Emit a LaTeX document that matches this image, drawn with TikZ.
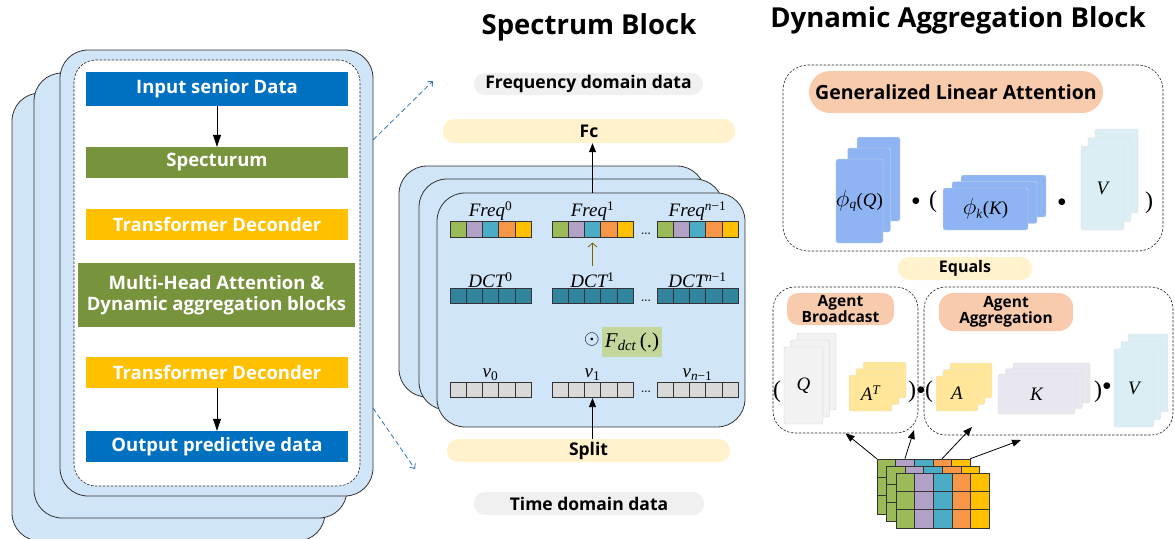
\documentclass[tikz,border=0pt]{standalone}
\usepackage{fontspec}
\newfontfamily\osans{Open Sans}
\newfontfamily\tnr{Liberation Serif}
\usetikzlibrary{arrows.meta,positioning}

\definecolor{stackBlue}{HTML}{D0E5F8}
\definecolor{blueBox}{HTML}{0070C0}
\definecolor{greenBox}{HTML}{77933C}
\definecolor{orangeBox}{HTML}{FFC000}
\definecolor{pillYellow}{HTML}{FFF2CC}
\definecolor{pillGray}{HTML}{F0F0F0}
\definecolor{peach}{HTML}{F8CBAD}
\definecolor{cellGreen}{HTML}{9BBB59}
\definecolor{cellPurple}{HTML}{B2A1C7}
\definecolor{cellTeal}{HTML}{4BACC6}
\definecolor{cellOrange}{HTML}{F79646}
\definecolor{cellYellow}{HTML}{FFC000}
\definecolor{dctTeal}{HTML}{31849B}
\definecolor{cellGray}{HTML}{D9D9D9}
\definecolor{fdctGreen}{HTML}{C3D69B}
\definecolor{phiBlue}{HTML}{8EB4F3}
\definecolor{vBlue}{HTML}{DAEEF3}
\definecolor{qGray}{HTML}{F2F2F2}
\definecolor{aYellow}{HTML}{FFE699}
\definecolor{kGray}{HTML}{E8E6EF}
\definecolor{linkBlue}{HTML}{2E75B6}
\definecolor{olive}{HTML}{7F6000}

\tikzset{
  stack/.style={draw=black!80, fill=stackBlue, rounded corners=28pt, line width=0.8pt, inner sep=0pt},
  flow/.style={font=\osans\bfseries\fontsize{18.5}{21}\selectfont, text=white, minimum width=262pt,
    minimum height=31pt, inner sep=0pt, align=center},
  title/.style={font=\osans\bfseries\fontsize{27.5}{30}\selectfont},
  pill/.style={rounded corners=11pt, inner sep=0pt, font=\osans\bfseries\fontsize{17.5}{20}\selectfont, align=center},
  cell/.style={draw=black!80, minimum width=16.2pt, minimum height=15.5pt, inner sep=0pt, line width=0.6pt},
  lbl/.style={font=\tnr\itshape\fontsize{19}{21}\selectfont, inner sep=0pt},
  sheet/.style={rounded corners=2pt, draw=black!12, inner sep=0pt, font=\tnr\itshape\fontsize{19}{21}\selectfont},
  dashbox/.style={draw=black!85, dash pattern=on 2.5pt off 1.5pt, rounded corners=22pt, line width=0.6pt, inner sep=0pt},
  op/.style={font=\fontsize{17}{19}\selectfont, inner sep=0pt},
  paren/.style={font=\tnr\fontsize{24}{26}\selectfont, inner sep=0pt},
  flowarrow/.style={-{Triangle[length=12pt,width=8pt]}, line width=0.8pt},
  smallarrow/.style={-{Triangle[length=9pt,width=7pt]}, line width=0.8pt},
  link/.style={linkBlue, dash pattern=on 5pt off 3pt, line width=0.8pt, -{Straight Barb[length=4pt,width=7pt]}},
}

\begin{document}
\begin{tikzpicture}[x=1pt,y=-1pt]
\useasboundingbox (0,0) rectangle (1175,538);

% Titles
\node[title] (spectitle) at (589,27) {Spectrum Block};
\node[title] (dyntitle) at (958,20) {Dynamic Aggregation Block};

%% Left: model pipeline

% Stacked plates
\node[stack, minimum width=313pt, minimum height=448pt] (lback) at (168.5,317) {};
\node[stack, minimum width=313pt, minimum height=445pt] (lmid) at (190.5,295.5) {};
\node[stack, minimum width=313pt, minimum height=446pt] (lfront) at (216.5,273) {};
\node[dashbox, fill=white, minimum width=286pt, minimum height=426pt] (linner) at (217,273) {};

% Blocks
\node[flow, fill=blueBox, minimum height=34pt] (input) at (217,89) {Input senior Data};
\node[flow, fill=greenBox] (spectrum) at (217,162.5) {Specturum};
\node[flow, fill=orangeBox] (trans1) at (217,224.5) {Transformer Deconder};
\node[flow, fill=greenBox, minimum width=277pt, minimum height=64pt] (mha) at (216.5,295)
  {Multi-Head Attention \&\\Dynamic aggregation blocks};
\node[flow, fill=orangeBox] (trans2) at (217,372.5) {Transformer Deconder};
\node[flow, fill=blueBox] (output) at (217,446.5) {Output predictive data};

\draw[flowarrow] (input) -- (spectrum);
\draw[flowarrow] (trans2) -- (output);

% Zoom links
\coordinate (linkStartA) at (373,140);
\coordinate (linkEndA) at (433,81);
\coordinate (linkStartB) at (373,408);
\coordinate (linkEndB) at (415,469);
\draw[link] (linkStartA) -- (linkEndA);
\draw[link] (linkStartB) -- (linkEndB);

%% Middle: spectrum block

% Domain labels
\node[pill, fill=pillGray, minimum width=229pt, minimum height=22pt] (freqdom) at (588.5,84) {Frequency domain data};
\node[pill, fill=pillYellow, minimum width=292pt, minimum height=24pt] (fc) at (589,131) {Fc};
\node[pill, fill=pillYellow, minimum width=283pt, minimum height=23pt] (split) at (588.5,450.5) {Split};
\node[pill, fill=pillGray, minimum width=230pt, minimum height=23pt] (timedom) at (589,503.5) {Time domain data};

% Stacked plates
\node[stack, minimum width=306pt, minimum height=231pt] (mback) at (552,281.5) {};
\node[stack, minimum width=304pt, minimum height=231pt] (mmid) at (571,294.5) {};
\node[stack, minimum width=308pt, minimum height=234pt] (mfront) at (591,310) {};

% Rows of cells
\foreach \gx/\gs [count=\g from 0] in {450/{\upshape 0}, 552/{\upshape 1}, 657/{n\upshape −1}} {
  \node[lbl] (freq\g) at (\gx+40.5,211) {Freq\textsuperscript{\gs}};
  \node[lbl] (dct\g) at (\gx+40.5,280) {DCT\textsuperscript{\gs}};
  \node[lbl] (nu\g) at (\gx+40.5,375) {v\textsubscript{\gs}};
  \foreach \cc [count=\i from 0] in {cellGreen,cellPurple,cellTeal,cellOrange,cellYellow} {
    \node[cell, fill=\cc] (f\g-\i) at (\gx+8.1+16.2*\i,229.5) {};
    \node[cell, fill=dctTeal] (d\g-\i) at (\gx+8.1+16.2*\i,296) {};
    \node[cell, fill=cellGray] (v\g-\i) at (\gx+8.1+16.2*\i,390) {};
  }
}
\node[font=\bfseries] (dotsf) at (646,234) {...};
\node[font=\bfseries] (dotsd) at (646,301) {...};
\node[font=\bfseries] (dotsv) at (646,392) {...};

% DCT step
\node[fill=fdctGreen, minimum width=60pt, minimum height=30pt, inner sep=0pt, font=\tnr\itshape\fontsize{21}{23}\selectfont]
  (fdct) at (632,342) {F\textsubscript{dct}\,{\upshape(.)}};
\node[inner sep=0pt] (odot) at (592,339) {\scalebox{2}{$\odot$}};
\draw[olive, line width=0.8pt, -{Straight Barb[length=4pt,width=9pt]}, shorten <=6pt, shorten >=5pt]
  (dct1.north) -- (f1-2.south);

% In and out
\draw[smallarrow] (f1-2 |- mfront.north) -- (f1-2 |- fc.south);
\draw[smallarrow] (v1-2 |- split.north) -- (v1-2.south);

%% Right: dynamic aggregation block

% Generalized linear attention
\node[dashbox, rounded corners=25pt, minimum width=380pt, minimum height=186pt] (glabox) at (973,158) {};
\node[pill, fill=peach, rounded corners=21pt, minimum width=294pt, minimum height=42pt,
  font=\osans\bfseries\fontsize{19.5}{22}\selectfont] (gla) at (956,92) {Generalized Linear Attention};

\foreach \k in {2,1}
  \node[sheet, fill=phiBlue, minimum width=43pt, minimum height=84pt] at (859.5+9.5*\k,201-11*\k) {};
\node[sheet, fill=phiBlue, minimum width=43pt, minimum height=84pt] (phiq) at (859.5,201)
  {\scalebox{1.35}{$\phi$}\textsubscript{q}{\upshape(}Q{\upshape)}};
\node[op] (dotA) at (916,202) {$\bullet$};
\node[paren] (lparA) at (933,202) {(};
\foreach \k in {2,1}
  \node[sheet, fill=phiBlue, minimum width=85pt, minimum height=42pt] at (985.5+9*\k,209-6.5*\k) {};
\node[sheet, fill=phiBlue, minimum width=85pt, minimum height=42pt] (phik) at (985.5,209)
  {\scalebox{1.35}{$\phi$}\textsubscript{k}{\upshape(}K{\upshape)}};
\node[op] (dotB) at (1062,203) {$\bullet$};
\foreach \k in {2,1}
  \node[sheet, fill=vBlue, minimum width=43pt, minimum height=84pt] at (1102.5+7*\k,188-8.5*\k) {};
\node[sheet, fill=vBlue, minimum width=43pt, minimum height=84pt] (vtop) at (1102.5,188) {V};
\node[paren] (rparA) at (1149,203) {)};

\node[pill, fill=pillYellow, minimum width=134pt, minimum height=23pt,
  font=\osans\bfseries\fontsize{16}{18}\selectfont] (equals) at (965,268.5) {Equals};

% Agent broadcast
\node[dashbox, minimum width=145pt, minimum height=146pt] (bcast) at (845.5,360) {};
\node[pill, fill=peach, minimum width=107pt, minimum height=32pt,
  font=\osans\bfseries\fontsize{15.5}{15}\selectfont] (bcastlbl) at (840.5,309) {Agent\\Broadcast};
\node[paren] (lparB) at (777,392) {(};
\foreach \k in {2,1}
  \node[sheet, fill=qGray, draw=black!18, minimum width=39pt, minimum height=77pt] at (803.5+6.5*\k,385.5-7*\k) {};
\node[sheet, fill=qGray, draw=black!18, minimum width=39pt, minimum height=77pt] (qq) at (803.5,385.5) {Q};
\foreach \k in {2,1}
  \node[sheet, fill=aYellow, minimum width=43pt, minimum height=36pt] at (870.5+7*\k,393-6.5*\k) {};
\node[sheet, fill=aYellow, minimum width=43pt, minimum height=36pt] (at) at (870.5,393) {A\textsuperscript{T}};
\node[paren] (rparB) at (912,392) {)};
\node[op] (dotC) at (921,391) {$\bullet$};

% Agent aggregation
\node[dashbox, minimum width=249pt, minimum height=148pt] (aggbox) at (1048.5,361) {};
\node[pill, fill=peach, rounded corners=14pt, minimum width=134pt, minimum height=38pt,
  font=\osans\bfseries\fontsize{15.5}{16.5}\selectfont] (agglbl) at (1006,312) {Agent\\Aggregation};
\node[paren] (lparC) at (929,392) {(};
\foreach \k in {2,1}
  \node[sheet, fill=aYellow, minimum width=42pt, minimum height=35pt] at (957+7*\k,393.5-6.5*\k) {};
\node[sheet, fill=aYellow, minimum width=42pt, minimum height=35pt] (aa) at (957,393.5) {A};
\foreach \k in {2,1}
  \node[sheet, fill=kGray, minimum width=77pt, minimum height=40pt] at (1036.5+7.5*\k,394-5.5*\k) {};
\node[sheet, fill=kGray, minimum width=77pt, minimum height=40pt] (kk) at (1036.5,394) {K};
\node[paren] (rparC) at (1098,392) {)};
\node[op] (dotD) at (1107,387) {$\bullet$};
\foreach \k in {2,1}
  \node[sheet, fill=vBlue, minimum width=40pt, minimum height=78pt] at (1134+7*\k,388-7.5*\k) {};
\node[sheet, fill=vBlue, minimum width=40pt, minimum height=78pt] (vbot) at (1134,388) {V};

% Agent tokens
\foreach \l in {2,1,0}
  \foreach \r in {0,1,2}
    \foreach \cc [count=\c from 0] in {cellGreen,cellPurple,cellTeal,cellOrange,cellYellow}
      \node[cell, fill=\cc, minimum width=18.6pt, minimum height=18.3pt]
        (cube\l-\r-\c) at (896-9.5*\l+9.3+18.6*\c,473-7*\l+9.15+18.3*\r) {};

\coordinate (tipB) at (914,430);
\coordinate (tipC) at (972,427);
\coordinate (tipD) at (1021,440);
\draw[smallarrow] (cube2-0-0.north west) -- (bcast.south);
\draw[smallarrow] (cube2-0-1.north) -- (tipB);
\draw[smallarrow] (cube2-0-3.north) -- (tipC);
\draw[smallarrow] (cube2-0-4.north east) -- (tipD);

\end{tikzpicture}
\end{document}
